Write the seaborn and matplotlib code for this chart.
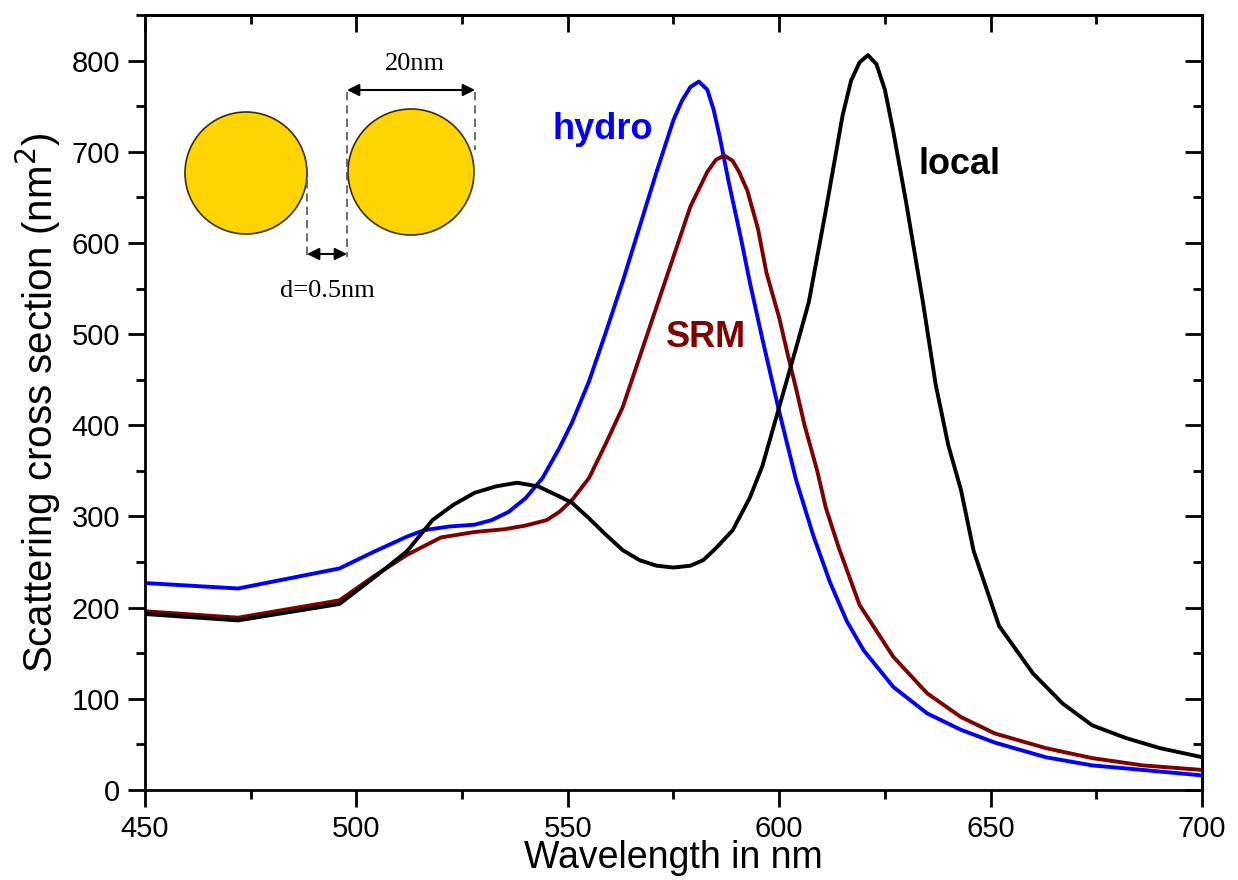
import numpy as np
import pandas as pd
import matplotlib.pyplot as plt
import seaborn as sns
from matplotlib.patches import Circle
from matplotlib.ticker import MultipleLocator

# values
lam_local = [450, 472, 496, 505, 512, 518, 523, 528, 533, 538, 543, 548, 551, 555, 559, 563,
             567, 571, 575, 579, 582, 585, 589, 593, 596, 600, 604, 607, 611, 615, 617, 619,
             621, 623, 625, 627, 630, 634, 637, 640, 643, 646, 652, 660, 667, 674, 682, 690, 700]
sig_local = [193, 186, 204, 236, 262, 296, 313, 326, 333, 337, 333, 322, 315, 298, 280, 263,
             252, 246, 244, 246, 252, 265, 285, 320, 355, 420, 485, 535, 635, 740, 778, 798,
             806, 796, 768, 722, 645, 535, 445, 378, 329, 262, 180, 128, 95, 71, 57, 46, 36]

lam_hydro = [450, 472, 496, 504, 512, 516, 522, 528, 532, 536, 540, 544, 548, 551, 555, 559,
             563, 567, 571, 575, 577, 579, 581, 583, 584.5, 586, 588, 591, 593, 596, 600, 604,
             608, 612, 616, 620, 627, 635, 643, 651, 663, 674, 686, 700]
sig_hydro = [227, 221, 243, 261, 278, 285, 289, 291, 296, 305, 320, 342, 375, 403, 448, 502,
             558, 618, 678, 735, 756, 771, 777, 768, 746, 715, 668, 604, 558, 495, 415, 340,
             280, 228, 185, 153, 113, 84, 66, 52, 36, 27, 22, 16]

lam_srm = [450, 472, 496, 504, 512, 520, 528, 535, 540, 545, 548, 551, 555, 559, 563, 567,
           571, 575, 579, 583, 585, 587, 589, 590.5, 592.5, 595, 597, 600, 602, 604, 606, 609,
           611, 614, 619, 627, 635, 643, 651, 663, 674, 686, 700]
sig_srm = [196, 189, 208, 234, 258, 277, 283, 286, 290, 296, 305, 318, 342, 380, 420, 475,
           530, 585, 640, 678, 691, 696, 690, 678, 657, 615, 567, 518, 478, 440, 400, 350,
           310, 267, 203, 146, 106, 80, 62, 46, 35, 27, 22]

models = ["hydro", "SRM", "local"]
colors = {"hydro": "#0000ff", "SRM": "#800000", "local": "#000000"}

df = pd.concat([
    pd.DataFrame({"wavelength": lam_hydro, "sigma": sig_hydro, "model": "hydro"}),
    pd.DataFrame({"wavelength": lam_srm, "sigma": sig_srm, "model": "SRM"}),
    pd.DataFrame({"wavelength": lam_local, "sigma": sig_local, "model": "local"}),
], ignore_index=True)

sns.set_style("ticks", {"text.color": "black", "axes.labelcolor": "black",
                        "xtick.color": "black", "ytick.color": "black",
                        "axes.edgecolor": "black"})
plt.rcParams["font.family"] = ["Liberation Sans", "DejaVu Sans"]

W, H = 1238, 880
fig = plt.figure(figsize=(W / 100, H / 100), dpi=100)
ax = fig.add_axes([145 / W, 1 - 790 / H, (1202 - 145) / W, (790 - 15) / H])

sns.lineplot(data=df, x="wavelength", y="sigma", hue="model", palette=colors,
             hue_order=models, estimator=None, sort=False, lw=2.8, legend=False, ax=ax)

ax.set_xlim(450, 700)
ax.set_ylim(0, 850)
ax.xaxis.set_major_locator(MultipleLocator(50))
ax.xaxis.set_minor_locator(MultipleLocator(25))
ax.yaxis.set_major_locator(MultipleLocator(100))
ax.yaxis.set_minor_locator(MultipleLocator(50))
ax.tick_params(which="major", direction="out", length=12, width=2, labelsize=21, pad=6)
ax.tick_params(which="minor", direction="out", length=6.5, width=2)
for s in ax.spines.values():
    s.set_linewidth(2)
    s.set_visible(True)

# inward ticks on top and right
top = ax.secondary_xaxis("top")
top.xaxis.set_major_locator(MultipleLocator(50))
top.xaxis.set_minor_locator(MultipleLocator(25))
top.tick_params(which="major", direction="in", length=12, width=2, labeltop=False)
top.tick_params(which="minor", direction="in", length=6.5, width=2)
right = ax.secondary_yaxis("right")
right.yaxis.set_major_locator(MultipleLocator(100))
right.yaxis.set_minor_locator(MultipleLocator(50))
right.tick_params(which="major", direction="in", length=12, width=2, labelright=False)
right.tick_params(which="minor", direction="in", length=6.5, width=2)
for sec in (top, right):
    for s in sec.spines.values():
        s.set_linewidth(2)

ax.set_xlabel("Wavelength in nm", fontsize=27, labelpad=-2)
ax.set_ylabel("Scattering cross section (nm$^2$)", fontsize=29, labelpad=6)

ax.text(558.2, 724, "hydro", color=colors["hydro"], fontsize=26, fontweight="bold",
        ha="center", va="center")
ax.text(582.6, 496, "SRM", color=colors["SRM"], fontsize=26, fontweight="bold",
        ha="center", va="center")
ax.text(642.7, 686, "local", color=colors["local"], fontsize=26, fontweight="bold",
        ha="center", va="center")

# sketch of the dimer, in pixel units of the figure
ins = fig.add_axes([160 / W, 1 - 310 / H, 340 / W, 270 / H])
ins.set_xlim(160, 500)
ins.set_ylim(310, 40)
ins.set_aspect("equal")
ins.axis("off")
ins.add_patch(Circle((246, 173), 61, fc="#ffd400", ec="#3a3000", lw=1.2))
ins.add_patch(Circle((411, 172), 63, fc="#ffd400", ec="#3a3000", lw=1.2))
dash = dict(color="#555555", lw=1.2, ls=(0, (5, 3)))
ins.plot([307, 307], [180, 257], **dash)
ins.plot([347, 347], [92, 257], **dash)
ins.plot([475, 475], [92, 150], **dash)
arrow = dict(arrowstyle="<|-|>", color="black", lw=1.5, mutation_scale=18, shrinkA=0, shrinkB=0)
ins.annotate("", xy=(347, 90), xytext=(475, 90), arrowprops=arrow)
ins.annotate("", xy=(307, 254), xytext=(347, 254), arrowprops=arrow)
ins.text(415, 64, "20nm", fontsize=19, family=["Liberation Serif", "DejaVu Serif"],
         ha="center", va="center")
ins.text(327, 291, "d=0.5nm", fontsize=19, family=["Liberation Serif", "DejaVu Serif"],
         ha="center", va="center")

fig.savefig("out.png", dpi=100)
